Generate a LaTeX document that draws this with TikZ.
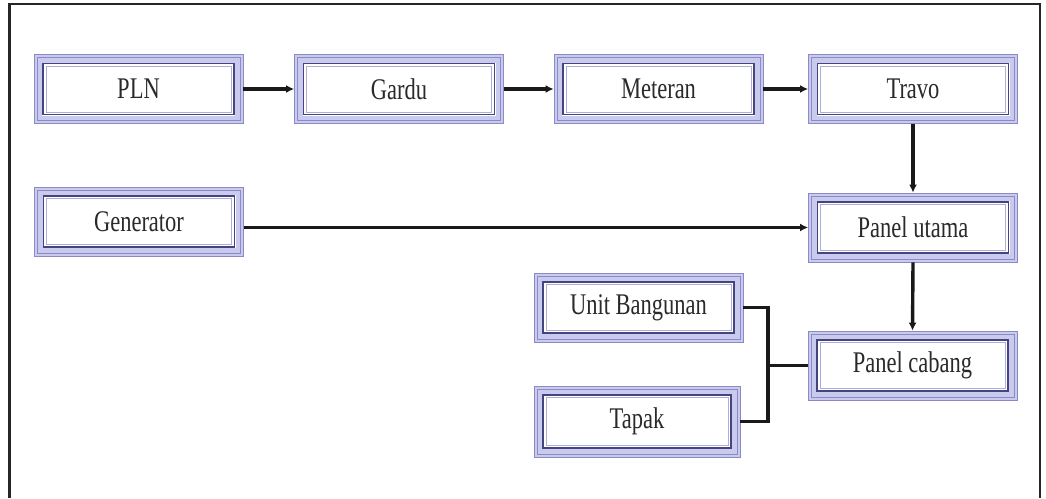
\documentclass[tikz,border=0pt]{standalone}
\usepackage{fontspec}
\setmainfont{Liberation Serif}[FakeStretch=0.75]
\usetikzlibrary{arrows.meta}
\definecolor{bandc}{HTML}{CACAEE}
\definecolor{edgec}{HTML}{8A8AC6}
\definecolor{darkc}{HTML}{44447E}
\definecolor{thinc}{HTML}{AEAEDE}
\definecolor{txtc}{HTML}{2A2A2A}
\tikzset{
  box/.style={draw=edgec, fill=bandc, line width=0.8pt,
    minimum width=209pt, minimum height=69pt, inner sep=0pt,
    font=\fontsize{30}{34}\selectfont, text=txtc,
    path picture={
      \fill[white] ([shift={(8pt,8pt)}]path picture bounding box.south west)
        rectangle ([shift={(-8pt,-8pt)}]path picture bounding box.north east);
      \draw[darkc, line width=1.8pt] ([shift={(9pt,9pt)}]path picture bounding box.south west)
        rectangle ([shift={(-9pt,-9pt)}]path picture bounding box.north east);
      \draw[thinc, line width=0.8pt] ([shift={(12pt,11.5pt)}]path picture bounding box.south west)
        rectangle ([shift={(-12pt,-11.5pt)}]path picture bounding box.north east);
      \draw[edgec, line width=0.6pt] ([shift={(3pt,3pt)}]path picture bounding box.south west)
        rectangle ([shift={(-3pt,-3pt)}]path picture bounding box.north east);
    }},
  conn/.style={line width=3.4pt, black!90},
  arr/.style={conn, -{Latex[length=8pt,width=8pt]}},
  frame/.style={line width=2.8pt, black!85}
}
\begin{document}
\begin{tikzpicture}[x=1pt,y=-1pt]
\useasboundingbox (0,0) rectangle (1046,498);
\draw[frame] (9.5,498) -- (9.5,4) -- (1040,4) -- (1040,498);

\node[box] (pln) at (138.5,89) {PLN};
\node[box] (gardu) at (399,89) {Gardu};
\node[box] (met) at (658.5,89) {Meteran};
\node[box] (travo) at (913,89) {Travo};
\node[box] (gen) at (139,221.5) {Generator};
\node[box] (pu) at (913,227.5) {Panel utama};
\node[box] (ub) at (638.5,307.5) {Unit Bangunan};
\node[box, minimum width=206pt, minimum height=71pt] (tp) at (637,421.5) {Tapak};
\node[box] (pc) at (912.5,365.5) {Panel cabang};

\draw[arr] (pln.east) -- (gardu.west);
\draw[arr] (gardu.east) -- (met.west);
\draw[arr] (met.east) -- (travo.west);
\draw[arr] (travo.south) -- (pu.north);
\draw[arr] (gen.east |- pu.west) -- (pu.west);
\draw[arr] (pu.south) -- (pc.north);

\coordinate (j) at (768,365.5);
\draw[conn] (ub.east) -| (j) -- (pc.west);
\draw[conn] (tp.east) -| (j);
\end{tikzpicture}
\end{document}
